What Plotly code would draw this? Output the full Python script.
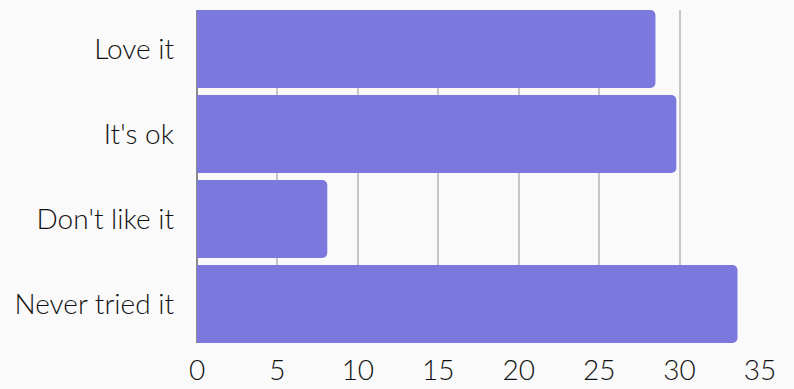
import plotly.graph_objects as go

# Survey responses
categories = ["Love it", "It's ok", "Don't like it", "Never tried it"]
counts = [28.5, 29.8, 8.1, 33.6]
x_ticks = [0, 5, 10, 15, 20, 25, 30, 35]

BAR_GAP = 0.082
FONT = dict(family="Lato", size=28, color="#111111", weight=300)

fig = go.Figure(
    go.Bar(
        x=counts,
        y=categories,
        orientation="h",
        marker=dict(color="#7b79de", line=dict(width=0)),
    )
)

n = len(categories)
fig.update_layout(
    width=794,
    height=389,
    margin=dict(l=197, r=34, t=10, b=46),
    paper_bgcolor="#fafafa",
    plot_bgcolor="#fafafa",
    bargap=BAR_GAP,
    barcornerradius=5,
    font=FONT,
    showlegend=False,
)
fig.update_xaxes(
    range=[0, 35],
    tickvals=x_ticks,
    showgrid=True,
    gridcolor="#c6c6c6",
    gridwidth=1.5,
    zeroline=True,
    zerolinecolor="#8a8a8a",
    zerolinewidth=1.5,
    showline=False,
    ticks="",
    tickfont=FONT,
    ticklabelstandoff=8,
    automargin=False,
)
fig.update_yaxes(
    categoryorder="array",
    categoryarray=categories,
    range=[n - 0.5 - BAR_GAP / 2, -0.5 + BAR_GAP / 2],
    showgrid=False,
    ticks="",
    tickfont=FONT,
    ticklabelstandoff=22,
    automargin=False,
)

fig.write_html("out.html")
